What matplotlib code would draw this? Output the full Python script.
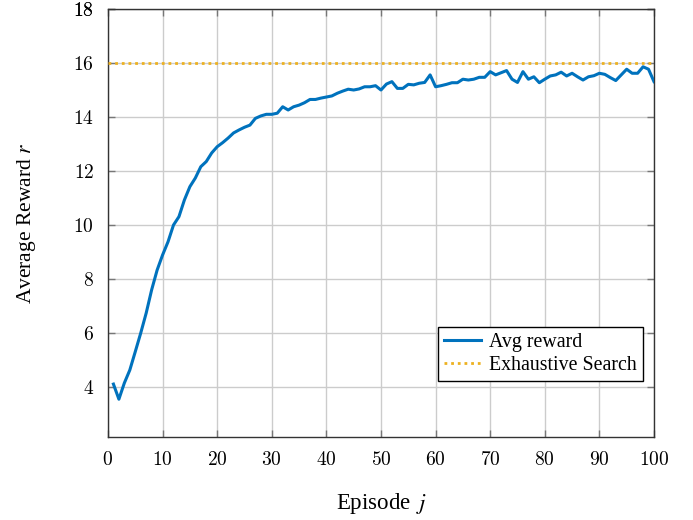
import numpy as np
import matplotlib
matplotlib.use("Agg")
import matplotlib.pyplot as plt
from matplotlib.ticker import FuncFormatter

# average reward per episode
episodes = list(range(1, 101))
avg_reward = [
    4.11, 3.55, 4.15, 4.63, 5.31, 6.00, 6.74, 7.60, 8.33, 8.89,
    9.38, 10.00, 10.31, 10.93, 11.42, 11.74, 12.16, 12.35, 12.67, 12.90,
    13.05, 13.22, 13.41, 13.52, 13.62, 13.70, 13.95, 14.04, 14.10, 14.10,
    14.14, 14.38, 14.26, 14.38, 14.44, 14.53, 14.65, 14.65, 14.70, 14.74,
    14.78, 14.88, 14.96, 15.03, 15.00, 15.04, 15.12, 15.12, 15.16, 15.00,
    15.22, 15.31, 15.06, 15.06, 15.21, 15.19, 15.25, 15.28, 15.56, 15.12,
    15.16, 15.21, 15.27, 15.27, 15.40, 15.37, 15.40, 15.47, 15.47, 15.68,
    15.56, 15.64, 15.72, 15.40, 15.28, 15.68, 15.40, 15.49, 15.27, 15.40,
    15.52, 15.56, 15.66, 15.52, 15.62, 15.49, 15.37, 15.49, 15.53, 15.62,
    15.58, 15.46, 15.35, 15.56, 15.77, 15.62, 15.62, 15.86, 15.77, 15.31,
]
exhaustive = 16.0

xticks = list(range(0, 101, 10))
yticks = list(range(4, 19, 2))

plt.rcParams['font.family'] = ['Liberation Serif', 'DejaVu Serif']

fig = plt.figure(figsize=(6.93, 5.2), dpi=100)
ax = fig.add_axes([0.1558, 0.1596, 0.7879, 0.8231])

ax.plot(episodes, avg_reward, color='#0072BD', lw=2.2, label='Avg reward', zorder=3)
ax.plot([0, 100], [exhaustive, exhaustive], color='#EDB120', lw=2.0,
        linestyle=(0, (1, 1.4)), label='Exhaustive Search', zorder=3)

ax.set_xlim(0, 100)
ax.set_ylim(2.15, 18)
ax.set_xticks(xticks)
ax.set_yticks(yticks + [18])
ax.grid(True, color='#cccccc', lw=1.0)
ax.set_axisbelow(True)

fmt = FuncFormatter(lambda v, p: '$%d$' % v)
ax.xaxis.set_major_formatter(fmt)
ax.yaxis.set_major_formatter(fmt)
for lab in ax.get_xticklabels() + ax.get_yticklabels():
    lab.set_math_fontfamily('cm')
    lab.set_fontsize(14)

ax.tick_params(direction='in', length=5, width=1, color='#777777',
               top=True, right=True, pad=10)
for s in ax.spines.values():
    s.set_color('#333333')
    s.set_linewidth(1.0)

ax.set_xlabel('Episode $\\,j$', fontsize=16.5, math_fontfamily='stix', labelpad=16)
ax.set_ylabel('Average Reward $r$', fontsize=15.5, math_fontfamily='stix', labelpad=25)

leg = ax.legend(loc='lower right', bbox_to_anchor=(0.98, 0.132), fontsize=14.3,
                fancybox=False, framealpha=1, edgecolor='black',
                handlelength=1.9, borderpad=0.3, labelspacing=0.2,
                handletextpad=0.4, borderaxespad=0)
leg.get_frame().set_linewidth(1.0)

fig.savefig('out.png', dpi=100)
